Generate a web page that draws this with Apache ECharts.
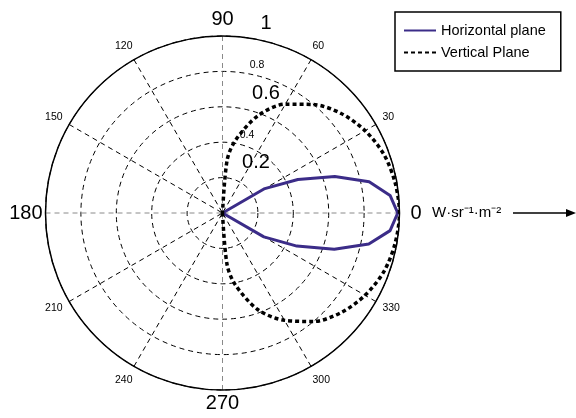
<!DOCTYPE html>
<html>
<head>
<meta charset="utf-8">
<script src="https://cdn.jsdelivr.net/npm/echarts@6/dist/echarts.min.js"></script>
<style>html,body{margin:0;padding:0;background:#fff}#c{width:576px;height:418px}</style>
</head>
<body>
<div id="c"></div>
<script>
// Horizontal plane (radius in W·sr-1·m-2, angle in degrees)
const hAngles = [324, 330, 336, 342, 348, 354, 0, 6, 12, 18, 24, 30, 36];
const hValues = [0, 0.27, 0.46, 0.664, 0.845, 0.952, 0.99, 0.952, 0.847, 0.667, 0.466, 0.276, 0];
// Vertical plane
const vAngles = [270, 275, 280, 290, 300, 310, 320, 330, 340, 350, 0, 10, 20, 30, 40, 50, 60, 70, 80, 85, 90];
const vValues = [0, 0.29, 0.41, 0.58, 0.7, 0.8, 0.875, 0.93, 0.97, 0.99, 1.0, 0.99, 0.97, 0.93, 0.875, 0.8, 0.71, 0.585, 0.415, 0.3, 0];
// Radial tick labels
const radialLabels = ['0.2', '0.4', '0.6', '0.8', '1'];
const seriesNames = ['Horizontal plane', 'Vertical Plane'];

const FONT = '"Liberation Sans", Arial, sans-serif';
const chart = echarts.init(document.getElementById('c'), null, {renderer: 'canvas'});

const hData = hAngles.map((a, i) => [hValues[i], a]);
const vData = vAngles.map((a, i) => [vValues[i], a]);

const radialPos = {
  '1':   {x: 266, y: 23, big: true},
  '0.8': {x: 257, y: 65, big: false},
  '0.6': {x: 266, y: 93, big: true},
  '0.4': {x: 247, y: 135, big: false},
  '0.2': {x: 256, y: 162, big: true}
};

const graphics = radialLabels.map(l => ({
  type: 'text', x: radialPos[l].x, y: radialPos[l].y, z: 10,
  style: {text: l, fontFamily: FONT, fontSize: radialPos[l].big ? 20 : 10.5, fill: '#000',
          textAlign: 'center', textVerticalAlign: 'middle'}
}));
graphics.push({
  type: 'text', x: 432, y: 213, z: 10,
  style: {text: 'W·sr⁻¹·m⁻²', fontFamily: FONT, fontSize: 15, fill: '#000', textAlign: 'left', textVerticalAlign: 'middle'}
});
graphics.push({
  type: 'line', z: 10, shape: {x1: 513, y1: 213, x2: 568, y2: 213}, style: {stroke: '#000', lineWidth: 1.5}
});
graphics.push({
  type: 'polygon', z: 10, shape: {points: [[576, 213], [566, 209], [566, 217]]}, style: {fill: '#000'}
});

chart.setOption({
  animation: false,
  backgroundColor: '#fff',
  textStyle: {fontFamily: FONT},
  polar: {center: [222.5, 213], radius: 177},
  angleAxis: {
    type: 'value', min: 0, max: 360, interval: 30, startAngle: 0, clockwise: false,
    axisLine: {lineStyle: {color: '#000', width: 1.5}},
    axisTick: {show: false},
    axisLabel: {
      margin: 3,
      formatter: v => {
        if (v === 360) return '';
        if (v === 0) return '{b0|0}';
        if (v === 90) return '{b90|90}';
        if (v === 180) return '{b180|180}';
        if (v === 270) return '{b270|270}';
        if (v % 180 === 30 || v % 180 === 150) return '{sa|' + v + '}';
        return '{sb|' + v + '}';
      },
      rich: {
        sa: {fontSize: 10.5, fontFamily: FONT, color: '#000', padding: [0, 4, 0, 4]},
        sb: {fontSize: 10.5, fontFamily: FONT, color: '#000', padding: [6, 0, 6, 0]},
        b0: {fontSize: 20, fontFamily: FONT, color: '#000', padding: [0, 0, 0, 8]},
        b90: {fontSize: 20, fontFamily: FONT, color: '#000', padding: [0, 0, 4, 0]},
        b180: {fontSize: 20, fontFamily: FONT, color: '#000', padding: [0, 0, 0, 0]},
        b270: {fontSize: 20, fontFamily: FONT, color: '#000', padding: [0, 0, 0, 0]}
      }
    },
    splitLine: {show: true, lineStyle: {color: ['#8a8a8a', '#000', '#000'], width: 1, type: [5, 4]}}
  },
  radiusAxis: {
    type: 'value', min: 0, max: 1, interval: 0.2,
    axisLine: {show: false}, axisTick: {show: false}, axisLabel: {show: false},
    splitLine: {show: true, lineStyle: {color: '#000', width: 1, type: [5, 4]}}
  },
  legend: {
    orient: 'vertical', left: 395, top: 12,
    data: seriesNames,
    borderColor: '#000', borderWidth: 1.5, borderRadius: 0,
    padding: [11, 15, 11, 8],
    itemWidth: 32, itemHeight: 14, itemGap: 7,
    itemStyle: {opacity: 0},
    textStyle: {fontSize: 14.5, fontFamily: FONT, color: '#000'}
  },
  series: [
    {
      name: seriesNames[0], type: 'line', coordinateSystem: 'polar', data: hData,
      symbol: 'none', smooth: false,
      lineStyle: {color: '#3b2c88', width: 3}, itemStyle: {color: '#3b2c88'}
    },
    {
      name: seriesNames[1], type: 'line', coordinateSystem: 'polar', data: vData,
      symbol: 'none', smooth: 0.3,
      lineStyle: {color: '#000', width: 3.5, type: [4, 3]}, itemStyle: {color: '#000'}
    }
  ],
  graphic: graphics
});
</script>
</body>
</html>
